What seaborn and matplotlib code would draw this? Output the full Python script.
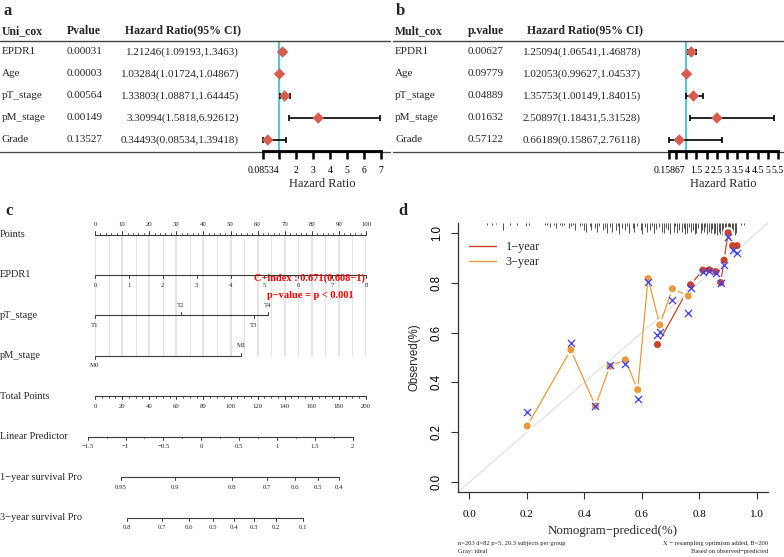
import numpy as np
import matplotlib
matplotlib.use("Agg")
import matplotlib.pyplot as plt
import matplotlib.transforms as mtransforms
from matplotlib.lines import Line2D
import seaborn as sns

# ---------------- data ----------------
cox_vars = ["EPDR1", "Age", "pT_stage", "pM_stage", "Grade"]

# panel a: univariate Cox
uni_p = [0.00031, 0.00003, 0.00564, 0.00149, 0.13527]
uni_hr = [1.21246, 1.03284, 1.33803, 3.30994, 0.34493]
uni_lo = [1.09193, 1.01724, 1.08871, 1.5818, 0.08534]
uni_hi = [1.3463, 1.04867, 1.64445, 6.92612, 1.39418]
uni_ticks = [0.08534, 1, 2, 3, 4, 5, 6, 7]
uni_ticklabels = ["0.08534", "", "2", "3", "4", "5", "6", "7"]

# panel b: multivariate Cox
mult_p = [0.00627, 0.09779, 0.04889, 0.01632, 0.57122]
mult_hr = [1.25094, 1.02053, 1.35753, 2.50897, 0.66189]
mult_lo = [1.06541, 0.99627, 1.00149, 1.18431, 0.15867]
mult_hi = [1.46878, 1.04537, 1.84015, 5.31528, 2.76118]
mult_ticks = [0.15867, 0.5, 1, 1.5, 2, 2.5, 3, 3.5, 4, 4.5, 5, 5.5]
mult_ticklabels = ["0.15867", "", "", "1.5", "2", "2.5", "3", "3.5", "4", "4.5", "5", "5.5"]

# panel c: nomogram
points_ticks = list(range(0, 101, 10))
epdr1_values = list(range(0, 9))
epdr1_max = 8
pt_levels = ["T1", "T2", "T3", "T4"]
pt_points = [0, 31.7, 58.7, 63.8]
pt_sides = ["below", "above", "below", "above"]
pm_levels = ["M0", "M1"]
pm_points = [0, 53.9]
pm_sides = ["below", "above"]
total_ticks = list(range(0, 201, 20))
lp_ticks = [-1.5, -1, -0.5, 0, 0.5, 1, 1.5, 2]
lp_at_zero_points = -1.4035       # linear predictor at total points = 0
total_points_per_lp = 55.86
surv1_ticks = [0.95, 0.9, 0.8, 0.7, 0.6, 0.5, 0.4]
surv1_loglog_base = -1.906       # log(-log S0(1 year))
surv3_ticks = [0.8, 0.7, 0.6, 0.5, 0.4, 0.3, 0.2, 0.1]
surv3_loglog_base = -0.5155      # log(-log S0(3 years))
cindex_text = "C\u2212index : 0.671(0.608\u22121)"
pvalue_text = "p\u2212value = p < 0.001"

# panel d: calibration
y1_pred = [0.655, 0.770, 0.813, 0.835, 0.858, 0.875, 0.887, 0.901, 0.917, 0.932]
y1_obs = [0.552, 0.792, 0.851, 0.852, 0.845, 0.801, 0.891, 1.001, 0.949, 0.949]
y1_corr = [0.592, 0.779, 0.845, 0.849, 0.841, 0.799, 0.872, 0.983, 0.932, 0.919]
y3_pred = [0.201, 0.353, 0.439, 0.489, 0.543, 0.586, 0.622, 0.663, 0.707, 0.762]
y3_obs = [0.225, 0.531, 0.305, 0.465, 0.491, 0.371, 0.817, 0.631, 0.776, 0.747]
y3_corr = [0.281, 0.559, 0.305, 0.468, 0.472, 0.332, 0.805, 0.601, 0.732, 0.677]
rug = [(0.060, .008), (0.077, .008), (0.094, .006), (0.118, .030), (0.142, .008), (0.166, .010),
       (0.197, .012), (0.206, .008), (0.262, .010), (0.271, .008), (0.279, .015), (0.294, .010),
       (0.301, .022), (0.316, .010), (0.322, .012), (0.331, .010), (0.347, .020), (0.353, .012),
       (0.362, .010), (0.369, .030), (0.384, .012), (0.391, .010), (0.398, .028), (0.407, .035),
       (0.419, .012), (0.425, .030), (0.437, .020), (0.444, .035), (0.452, .012), (0.466, .030),
       (0.471, .022), (0.480, .040), (0.489, .015), (0.497, .035), (0.509, .030), (0.516, .012),
       (0.521, .045), (0.533, .020), (0.541, .030), (0.548, .012), (0.556, .040), (0.569, .020),
       (0.574, .035), (0.583, .012), (0.596, .030), (0.601, .045), (0.610, .015), (0.617, .035),
       (0.629, .030), (0.636, .012), (0.644, .040), (0.650, .025), (0.659, .015), (0.671, .035),
       (0.676, .040), (0.684, .020), (0.693, .030), (0.699, .045), (0.711, .035), (0.717, .012),
       (0.722, .040), (0.731, .030), (0.739, .035), (0.746, .020), (0.751, .045), (0.758, .040),
       (0.766, .015), (0.771, .035), (0.779, .030), (0.786, .045), (0.790, .040), (0.797, .020),
       (0.805, .040), (0.809, .030), (0.816, .035), (0.822, .015), (0.828, .045), (0.834, .035),
       (0.840, .040), (0.845, .025), (0.851, .045), (0.857, .040), (0.862, .050), (0.868, .035),
       (0.873, .045), (0.879, .050), (0.884, .040), (0.889, .055), (0.894, .045), (0.899, .050),
       (0.904, .040), (0.909, .055), (0.914, .045), (0.919, .035), (0.924, .050), (0.929, .040),
       (0.946, .008), (0.956, .008)]
calib_ticks = [0.0, 0.2, 0.4, 0.6, 0.8, 1.0]

# ---------------- style ----------------
sns.set_theme(style="ticks")
SERIF = ["Liberation Serif", "DejaVu Serif"]
SANS = ["Liberation Sans", "DejaVu Sans"]
plt.rcParams["font.family"] = SERIF
plt.rcParams["axes.unicode_minus"] = True

CYAN = "#63c3ca"
DIAMOND = "#d45f50"
RED = "#c9442b"
ORANGE = "#e99a3e"
BLUE = "#3d3dff"

W, H = 784, 557
fig = plt.figure(figsize=(W / 100, H / 100), dpi=100)


def box(x0, y0, x1, y1):
    return [x0 / W, 1 - y1 / H, (x1 - x0) / W, (y1 - y0) / H]


def fx(px):
    return px / W


def fy(py):
    return 1 - py / H


# ---------------- panels a / b ----------------
def forest_panel(ax_box, hr, lo, hi, ticks, ticklabels, x0, x1, cols, headers, pvals, hr_right):
    ax = fig.add_axes(ax_box)
    hr = np.array(hr); lo = np.array(lo); hi = np.array(hi)
    rows = np.arange(len(hr))
    ax.axvline(1, color=CYAN, lw=1.6, zorder=1)
    eb = ax.errorbar(hr, rows, xerr=[hr - lo, hi - hr], fmt="none", ecolor="black",
                     elinewidth=1.2, capsize=2.3, capthick=1.2, zorder=2)
    for art in list(eb.lines[1]) + list(eb.lines[2]):
        art.set_clip_on(False)
    sns.scatterplot(x=hr, y=rows, marker="D", s=34, color=DIAMOND, edgecolor="none",
                    ax=ax, zorder=3, clip_on=False)
    ax.set_xlim(ticks[0], ticks[-1])
    ax.set_ylim(len(hr) - 0.5, -0.5)
    ax.set_yticks([])
    for s in ["top", "right", "left"]:
        ax.spines[s].set_visible(False)
    ax.spines["bottom"].set_linewidth(2)
    ax.spines["bottom"].set_color("black")
    ax.set_xticks(ticks)
    ax.set_xticklabels(ticklabels, fontsize=7)
    ax.tick_params(axis="x", direction="out", length=6, width=1.8, pad=5, colors="black")
    ax.set_xlabel("Hazard Ratio", fontsize=9, labelpad=2)
    ax.set_facecolor("none")

    tr = mtransforms.blended_transform_factory(fig.transFigure, ax.transData)
    header_row = -0.97
    for cx, h in zip(cols, headers):
        fig.text(fx(cx), header_row, h, transform=tr, fontsize=8.5, fontweight="bold", va="center")
    for i, v in enumerate(cox_vars):
        fig.text(fx(cols[0]), i, v, transform=tr, fontsize=8, va="center")
        fig.text(fx(cols[1]), i, f"{pvals[i]:.5f}", transform=tr, fontsize=8, va="center")
        fig.text(fx(hr_right), i, f"{hr[i]}({lo[i]},{hi[i]})", transform=tr,
                 fontsize=8, va="center", ha="right")
    # table rules
    fig.add_artist(Line2D([fx(x0), fx(x1)], [fy(41), fy(41)], transform=fig.transFigure,
                          color="#444444", lw=1.0))
    fig.add_artist(Line2D([fx(x0), fx(x1)], [fy(151.5), fy(151.5)], transform=fig.transFigure,
                          color="#444444", lw=0.9, zorder=0))
    return ax


forest_panel(box(263.4, 41, 381, 151), uni_hr, uni_lo, uni_hi, uni_ticks, uni_ticklabels,
             0, 390, [2, 67, 125], ["Uni_cox", "Pvalue", "Hazard Ratio(95% CI)"], uni_p, 239)
forest_panel(box(669, 41, 778, 151), mult_hr, mult_lo, mult_hi, mult_ticks, mult_ticklabels,
             393, 784, [395, 468, 527], ["Mult_cox", "p.value", "Hazard Ratio(95% CI)"], mult_p, 641)

fig.text(fx(4), fy(11), "a", fontsize=12, fontweight="bold", va="center")
fig.text(fx(396), fy(11), "b", fontsize=12, fontweight="bold", va="center")
fig.text(fx(5), fy(211), "c", fontsize=12, fontweight="bold", va="center")
fig.text(fx(398), fy(211), "d", fontsize=12, fontweight="bold", va="center")

# ---------------- panel c: nomogram ----------------
axn = fig.add_axes(box(95, 234.5, 366, 517.5))
axn.set_xlim(0, 100)
axn.set_ylim(7, 0)
axn.axis("off")
trn = mtransforms.blended_transform_factory(fig.transFigure, axn.transData)
LINE = "#3a3a3a"
TICK = 0.075
MINOR = 0.045
LAB = 0.25
TFS = 4.9


def scale_row(row, pos, labels, sides, minor=None):
    axn.plot([min(pos), max(pos)], [row, row], color=LINE, lw=0.8, clip_on=False,
             solid_capstyle="butt")
    for p, lab, side in zip(pos, labels, sides):
        d = -1 if side == "above" else 1
        axn.plot([p, p], [row, row + d * TICK], color=LINE, lw=0.7, clip_on=False)
        axn.text(p, row + d * LAB, lab, ha="center", va="center", fontsize=TFS, clip_on=False)
    if minor is not None:
        d = -1 if sides[0] == "above" else 1
        for p in minor:
            axn.plot([p, p], [row, row + d * MINOR], color=LINE, lw=0.6, clip_on=False)


def lp_to_points(lp):
    return (np.asarray(lp) - lp_at_zero_points) * total_points_per_lp / 2.0


row_labels = ["Points", "EPDR1", "pT_stage", "pM_stage", "Total Points", "Linear Predictor",
              "1\u2212year survival Pro", "3\u2212year survival Pro"]
for i, lab in enumerate(row_labels):
    axn.text(fx(0), i, lab, transform=trn, fontsize=7.5, va="center", ha="left")

# vertical reference grid
for g in np.arange(0, 101, 5):
    axn.plot([g, g], [0, 3], color="#dddddd", lw=1.1 if g % 10 == 0 else 0.6, zorder=0)

scale_row(0, points_ticks, [str(v) for v in points_ticks], ["above"] * len(points_ticks),
          minor=np.arange(0, 101, 2))
scale_row(1, [v * 100 / epdr1_max for v in epdr1_values], [str(v) for v in epdr1_values],
          ["below"] * len(epdr1_values))
scale_row(2, pt_points, pt_levels, pt_sides)
scale_row(3, pm_points, pm_levels, pm_sides)
scale_row(4, [v / 2 for v in total_ticks], [str(v) for v in total_ticks],
          ["below"] * len(total_ticks), minor=np.arange(0, 201, 5) / 2)
scale_row(5, lp_to_points(lp_ticks), ["\u22121.5", "\u22121", "\u22120.5", "0", "0.5", "1", "1.5", "2"],
          ["below"] * len(lp_ticks), minor=lp_to_points(np.arange(-1.5, 2.01, 0.25)))
s1 = np.array(surv1_ticks)
scale_row(6, lp_to_points(np.log(-np.log(s1)) - surv1_loglog_base), [str(v) for v in surv1_ticks],
          ["below"] * len(s1))
s3 = np.array(surv3_ticks)
scale_row(7, lp_to_points(np.log(-np.log(s3)) - surv3_loglog_base), [str(v) for v in surv3_ticks],
          ["below"] * len(s3))

axn.text(79.3, 1.08, cindex_text, color="red", fontsize=7.5, fontweight="bold",
         ha="center", va="center", clip_on=False)
axn.text(79.3, 1.52, pvalue_text, color="red", fontsize=7.5, fontweight="bold",
         ha="center", va="center", clip_on=False)

# ---------------- panel d: calibration ----------------
axd = fig.add_axes(box(458, 223, 768, 492))
axd.set_xlim(-0.04, 1.04)
axd.set_ylim(-0.04, 1.04)
axd.axline((0, 0), (1, 1), color="#e2e2e2", lw=0.9, zorder=0)
for xs, ys, col in [(y1_pred, y1_obs, RED), (y3_pred, y3_obs, ORANGE)]:
    sns.lineplot(x=xs, y=ys, sort=False, estimator=None, color=col, lw=0.9, ax=axd, zorder=2)
    sns.scatterplot(x=xs, y=ys, color="white", s=70, edgecolor="none", ax=axd, zorder=3)
for xs, ys, col in [(y1_pred, y1_obs, RED), (y3_pred, y3_obs, ORANGE)]:
    sns.scatterplot(x=xs, y=ys, color=col, s=26, edgecolor="none", ax=axd, zorder=4)
for xs, ys in [(y1_pred, y1_corr), (y3_pred, y3_corr)]:
    sns.scatterplot(x=xs, y=ys, marker="x", color=BLUE, s=26, linewidth=0.9, ax=axd, zorder=5)
rug_x = [r[0] for r in rug]
rug_len = [r[1] for r in rug]
axd.vlines(rug_x, [1.04 - l for l in rug_len], 1.04, color="#333333", lw=0.6, clip_on=False)

for s in ["top", "right"]:
    axd.spines[s].set_visible(False)
for s in ["left", "bottom"]:
    axd.spines[s].set_color("#333333")
    axd.spines[s].set_linewidth(0.9)
axd.set_xticks(calib_ticks)
axd.set_xticklabels([f"{v:.1f}" for v in calib_ticks], fontsize=8)
axd.set_yticks(calib_ticks)
axd.set_yticklabels([f"{v:.1f}" for v in calib_ticks], fontsize=8.3, rotation=90,
                    va="center", family=SANS)
axd.tick_params(axis="both", direction="out", length=5, width=0.8, colors="#333333")
axd.tick_params(axis="x", pad=8, labelcolor="black")
axd.tick_params(axis="y", pad=6, labelcolor="black")
axd.set_xlabel("Nomogram\u2212prediced(%)", fontsize=9.3, labelpad=4)
axd.set_ylabel("Observed(%)", fontsize=8.3, family=SANS, labelpad=7)
axd.set_facecolor("none")
handles = [Line2D([], [], color=RED, lw=1.0), Line2D([], [], color=ORANGE, lw=1.0)]
axd.legend(handles, ["1\u2212year", "3\u2212year"], loc="upper left",
           bbox_to_anchor=(0.02, 0.95), frameon=False, fontsize=8.8,
           handlelength=2.2, handletextpad=0.8, labelspacing=0.2, borderaxespad=0)

fig.text(fx(458), fy(544), "n=203 d=82 p=5, 20.3 subjects per group", fontsize=4.7, va="center")
fig.text(fx(458), fy(552), "Gray: ideal", fontsize=4.7, va="center")
fig.text(fx(768), fy(544), "X \u2212 resampling optimism added, B=200", fontsize=4.7,
         va="center", ha="right")
fig.text(fx(768), fy(552), "Based on observed\u2212predicted", fontsize=4.7, va="center", ha="right")

fig.savefig("out.png", dpi=100)
